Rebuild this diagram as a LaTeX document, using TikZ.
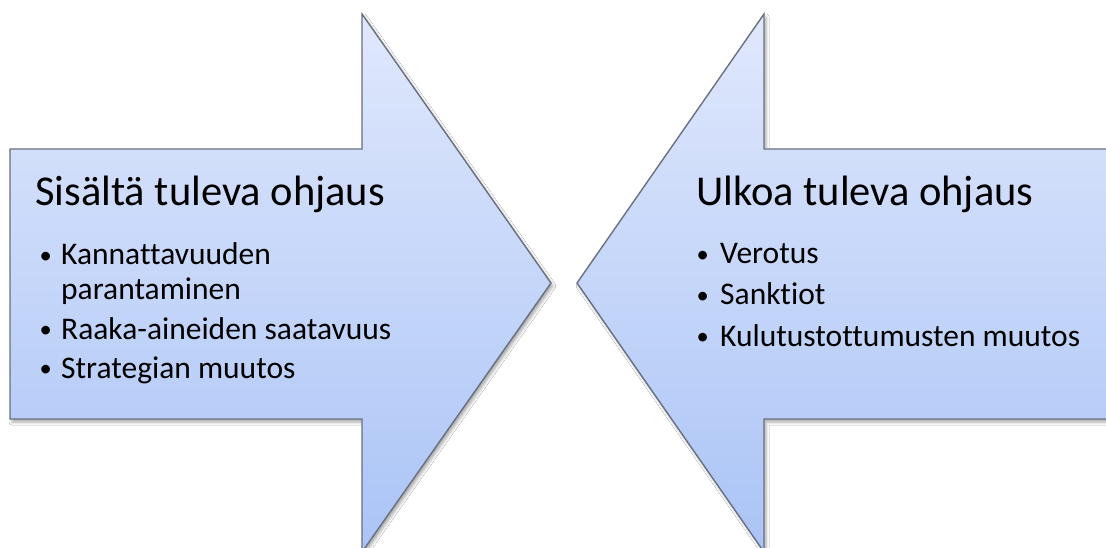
\documentclass[tikz,border=0pt]{standalone}
\usepackage{fontspec}
\setmainfont[Ligatures={NoCommon}]{Carlito}
\usetikzlibrary{shadows.blur}
\definecolor{arrtop}{RGB}{224,232,252}
\definecolor{arrbot}{RGB}{170,196,246}
\definecolor{arredge}{RGB}{105,112,130}
\tikzset{
  bigarrow/.style={draw=arredge, line width=1.4pt, line join=miter, top color=arrtop, bottom color=arrbot,
    blur shadow={shadow xshift=2pt, shadow yshift=-3pt, shadow blur radius=3pt, shadow opacity=35}},
  title/.style={anchor=base west, inner sep=0pt, font=\fontsize{42.5}{44}\selectfont},
  item/.style={anchor=base west, inner sep=0pt, font=\fontsize{31.5}{34}\selectfont},
  dot/.style={anchor=base west, inner sep=0pt, yshift=1.3pt, font=\fontsize{24.5}{26}\selectfont}
}
\begin{document}
\begin{tikzpicture}[x=1pt,y=-1pt]
\clip (0,0) rectangle (1106,548);
\useasboundingbox (0,0) rectangle (1106,548);
\fill[white] (0,0) rectangle (1106,548);
% left arrow
\path[bigarrow] (10,149) -- (362,149) -- (362,14) -- (551,283) -- (362,552) -- (362,419) -- (10,419) -- cycle;
% right arrow
\path[bigarrow] (577,283) -- (764,14) -- (764,149) -- (1120,149) -- (1120,419) -- (764,419) -- (764,552) -- cycle;
% left texts
\node[title] (lt) at (35,206) {Sisältä tuleva ohjaus};
\node[dot] (ld1) at (39.5,265) {•};
\node[item] (l1) at (61,265) {Kannattavuuden};
\node[item] (l1b) at (61,299) {parantaminen};
\node[dot] (ld2) at (39.5,339) {•};
\node[item] (l2) at (61,339) {Raaka-aineiden saatavuus};
\node[dot] (ld3) at (39.5,378) {•};
\node[item] (l3) at (61,378) {Strategian muutos};
% right texts
\node[title] (rt) at (696,206) {Ulkoa tuleva ohjaus};
\node[dot] (rd1) at (696.5,264) {•};
\node[item] (r1) at (720,264) {Verotus};
\node[dot] (rd2) at (696.5,305) {•};
\node[item] (r2) at (720,305) {Sanktiot};
\node[dot] (rd3) at (696.5,346) {•};
\node[item] (r3) at (720,346) {Kulutustottumusten muutos};
\end{tikzpicture}
\end{document}
